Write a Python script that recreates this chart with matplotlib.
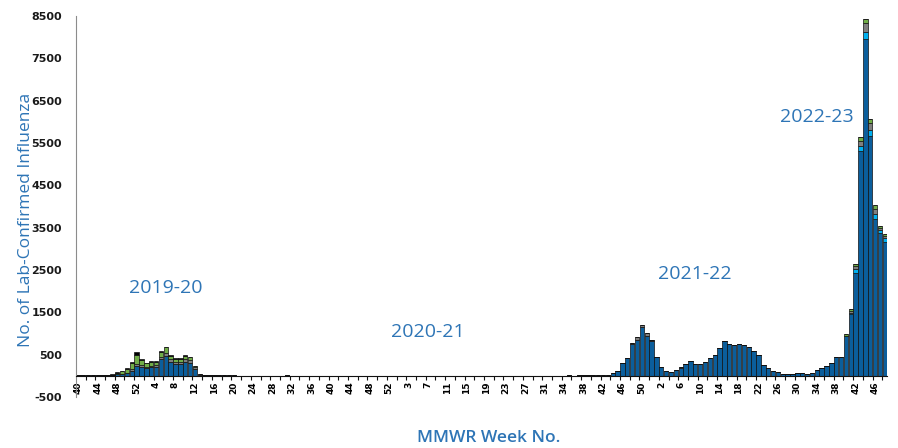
import numpy as np
import matplotlib
matplotlib.use("Agg")
import matplotlib.pyplot as plt

plt.rcParams['font.family'] = ['Open Sans', 'DejaVu Sans']
plt.rcParams['axes.unicode_minus'] = False

# MMWR week categories, 2019 week 40 to 2022 week 48 (the source repeats a 2021 week)
year_weeks = ([(2019, w) for w in range(40, 53)]
              + [(2020, w) for w in range(1, 54)]
              + [(2021, w) for w in list(range(1, 32)) + [32, 32, 33] + list(range(34, 53))]
              + [(2022, w) for w in range(1, 49)])

# dark blue counts, one list per season
blue_2019_20 = [10, 10, 10, 15, 20, 10, 10, 20, 40, 40, 60, 120, 230,
                210, 180, 200, 220, 400, 480, 330, 270, 270, 330, 310, 150, 30, 10,
                8, 10, 8, 10, 12, 8, 6, 5, 6, 5, 5, 4, 5, 4, 5, 6, 8, 6, 5, 4, 5, 4, 5, 5, 4]
blue_2020_21 = [5, 4, 4, 5, 5, 4, 6, 5, 4, 5, 5, 4, 5, 4,
                4, 5, 4, 5, 4, 4, 5, 6, 5, 4, 5, 5, 4, 4, 5, 4, 5, 6, 5, 4, 4, 5, 5, 4, 5, 4, 5, 6, 5, 6, 5,
                6, 5, 6,
                6, 8, 7, 10, 24, 10]
blue_2021_22 = [8, 8, 15, 30, 63, 110, 314, 417, 750, 850, 1165, 950, 830,
                456, 220, 110, 86, 141, 180, 281, 362, 275, 275, 330, 417, 487, 660, 825,
                762, 739, 762, 723, 692, 590, 487, 267, 181, 118, 94, 55, 39, 47, 71,
                71, 47, 63, 126, 181, 236, 314, 436, 456]
blue_2022_23 = [930, 1454, 2420, 5300, 7950, 5675, 3694, 3380, 3160]

# other groups: runs of weekly counts, keyed by the first (year, week) of the run
cyan_runs = {(2022, 40): [15, 40, 110, 140, 165, 140, 140, 60, 94]}
gray_runs = {(2019, 50): [10, 30, 60, 40, 30, 40, 40, 50, 70, 60, 60, 60, 70, 70, 50, 5],
             (2021, 48): [36, 77, 30, 72, 19],
             (2022, 6): [17, 10],
             (2022, 41): [40, 63, 100, 210, 157, 110, 55, 47]}
green_runs = {(2019, 48): [35, 70, 100, 160, 210, 120, 90, 80, 70, 120, 120, 90, 70, 70, 70, 60, 30, 5],
              (2022, 38): [20],
              (2022, 40): [37, 40, 40, 95, 100, 94, 80, 55, 55]}
black_runs = {(2019, 46): [10, 20, 4, 8, 10, 20, 60, 23, 14, 40, 16, 10, 20, 15, 16, 16, 17, 16, 6, 7, 5]}

season_labels = ["2019-20", "2020-21", "2021-22", "2022-23"]
season_label_at = [((2020, 6), 2070), ((2021, 7), 1030), ((2022, 9), 2400), ((2022, 34), 6120)]

n = len(year_weeks)
x = np.arange(n)


def from_runs(runs):
    vals = np.zeros(n)
    for start, counts in runs.items():
        i = year_weeks.index(start)
        vals[i:i + len(counts)] = counts
    return vals


blue = np.array(blue_2019_20 + blue_2020_21 + blue_2021_22 + blue_2022_23, dtype=float)
stack = [(blue, "#0b5e9c"),
         (from_runs(cyan_runs), "#00b0f0"),
         (from_runs(gray_runs), "#7f7f7f"),
         (from_runs(green_runs), "#70ad47"),
         (from_runs(black_runs), "#000000")]

fig = plt.figure(figsize=(8.98, 4.48), dpi=100)
ax = fig.add_axes([75.9 / 898, 1 - 397 / 448, 811.3 / 898, 381 / 448])

bottom = np.zeros(n)
for vals, col in stack:
    ax.bar(x, vals, bottom=bottom, width=0.9, color=col, edgecolor="#111111", linewidth=0.5)
    bottom += vals

# spines first: moving a spine resets the tick objects
for side in ["top", "right"]:
    ax.spines[side].set_visible(False)
ax.spines["bottom"].set_position(("data", 0))
ax.spines["bottom"].set_color("#111111")
ax.spines["left"].set_color("#8c8c8c")

ax.set_xlim(-0.5, n - 0.5)
ax.set_ylim(-500, 8500)
ax.set_yticks(np.arange(-500, 8501, 1000))
ax.set_yticklabels([str(v) for v in range(-500, 8501, 1000)],
                   fontdict={"family": "DejaVu Sans", "weight": "bold", "size": 8})
ax.tick_params(axis="y", length=0, pad=10, labelcolor="#1a1a1a")

ax.set_xticks(x[::4])
ax.set_xticklabels([str(w) for _, w in year_weeks[::4]], rotation=90, va="top", ha="center",
                   fontdict={"family": "DejaVu Sans", "weight": "bold", "size": 6.5})
ax.set_xticks(np.arange(1.5, n, 2), minor=True)
ax.tick_params(axis="x", which="major", length=0, pad=4)
ax.tick_params(axis="x", which="minor", length=3, width=0.8, direction="out", color="#111111")

for text, (key, yv) in zip(season_labels, season_label_at):
    ax.text(year_weeks.index(key), yv, text, ha="center", va="center", fontsize=14, color="#2e75b6")

fig.text(26 / 898, 1 - 220 / 448, "No. of Lab-Confirmed Influenza", rotation=90,
         ha="center", va="center", fontsize=12.5, color="#2e75b6")
fig.text(489 / 898, 1 - 438 / 448, "MMWR Week No.", ha="center", va="center",
         fontsize=12.5, color="#2e75b6", fontweight="semibold")

fig.savefig("out.png", dpi=100)
